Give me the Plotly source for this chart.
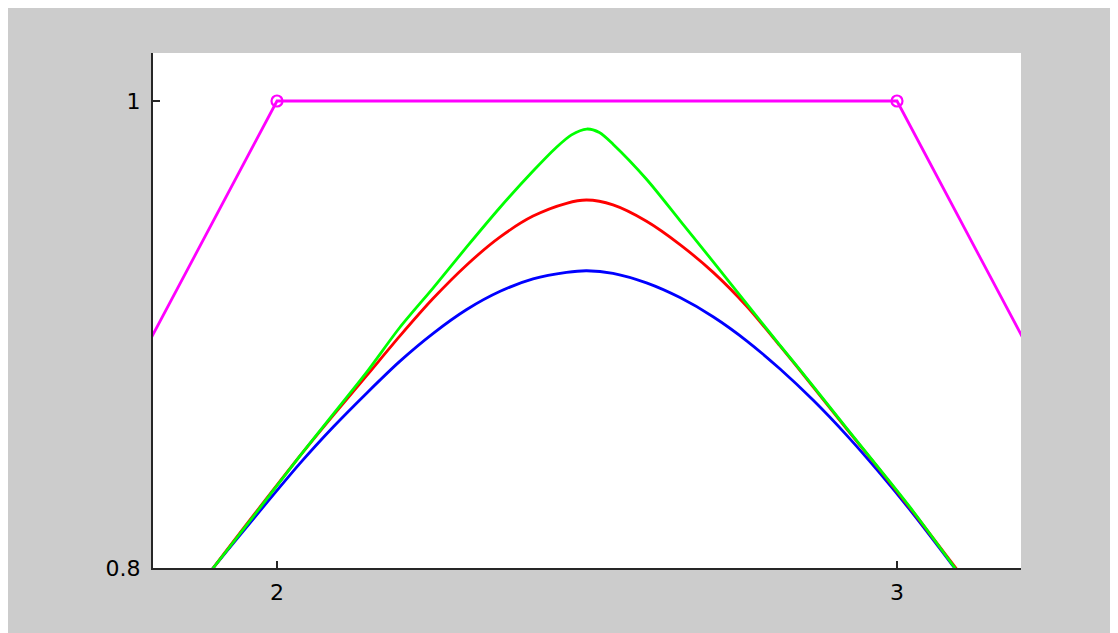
import plotly.graph_objects as go

# Trapezoid (magenta) vertices
trap_x = [0.0, 2.0, 3.0, 5.0]
trap_y = [0.0, 1.0, 1.0, 0.0]

# Curves
green_x = [1.88, 1.897, 1.95, 2.037, 2.091, 2.145, 2.198, 2.252, 2.306, 2.360, 2.413, 2.450, 2.475, 2.4995, 2.520, 2.542, 2.596, 2.650, 2.704, 2.758, 2.811, 2.865, 2.919, 2.973, 3.026, 3.0935, 3.11]
green_y = [0.794, 0.800, 0.818, 0.848, 0.866, 0.884, 0.903, 0.920, 0.9375, 0.9545, 0.970, 0.980, 0.9855, 0.988, 0.9865, 0.9815, 0.9665, 0.9488, 0.9310, 0.9130, 0.8955, 0.8778, 0.8598, 0.8420, 0.8243, 0.800, 0.794]

red_x = [1.88, 1.897, 2.037, 2.091, 2.145, 2.198, 2.252, 2.306, 2.360, 2.413, 2.467, 2.4995, 2.542, 2.596, 2.650, 2.704, 2.758, 2.811, 2.865, 2.919, 2.973, 3.026, 3.095, 3.11]
red_y = [0.794, 0.800, 0.848, 0.8655, 0.8825, 0.8993, 0.9155, 0.9298, 0.9418, 0.9507, 0.9562, 0.9576, 0.9555, 0.9485, 0.9385, 0.9265, 0.9120, 0.8952, 0.8775, 0.8595, 0.8418, 0.8240, 0.800, 0.795]

blue_x = [1.88, 1.897, 2.037, 2.091, 2.145, 2.198, 2.252, 2.306, 2.360, 2.413, 2.467, 2.4995, 2.542, 2.596, 2.650, 2.704, 2.758, 2.811, 2.865, 2.919, 2.973, 3.026, 3.093, 3.11]
blue_y = [0.794, 0.800, 0.8448, 0.8605, 0.8750, 0.8885, 0.9005, 0.9107, 0.9185, 0.9238, 0.9266, 0.9273, 0.9262, 0.9221, 0.9158, 0.9075, 0.8972, 0.8853, 0.8718, 0.8568, 0.8404, 0.8232, 0.800, 0.794]

x_ticks = [2, 3]
x_tick_text = ["2", "3"]
y_ticks = [0.8, 1.0]
y_tick_text = ["0.8", "1"]

fig = go.Figure()
fig.add_trace(go.Scatter(x=blue_x, y=blue_y, mode="lines", line=dict(color="#0000ff", width=2.8, shape="spline", smoothing=0.8)))
fig.add_trace(go.Scatter(x=red_x, y=red_y, mode="lines", line=dict(color="#ff0000", width=2.8, shape="spline", smoothing=0.8)))
fig.add_trace(go.Scatter(x=green_x, y=green_y, mode="lines", line=dict(color="#00ff00", width=2.8, shape="spline", smoothing=0.8)))
fig.add_trace(go.Scatter(x=trap_x, y=trap_y, mode="lines+markers",
                         line=dict(color="#ff00ff", width=2.8),
                         marker=dict(symbol="circle-open", size=11, color="#ff00ff", line=dict(width=2.2))))

fig.update_layout(
    width=1110, height=625,
    margin=dict(l=145, r=97, t=45, b=65),
    paper_bgcolor="#cccccc",
    plot_bgcolor="#ffffff",
    showlegend=False,
    font=dict(family="DejaVu Sans, sans-serif", size=22, color="#000000"),
)
tickfont = dict(family="DejaVu Sans, sans-serif", size=22, color="#000000")
fig.update_xaxes(range=[1.8, 3.2], tickvals=x_ticks, ticktext=x_tick_text, tickfont=tickfont,
                 showgrid=False, zeroline=False, showline=True, linecolor="#262626", linewidth=2,
                 ticks="inside", ticklen=7, tickwidth=1.5, tickcolor="#262626", mirror=False,
                 ticklabelstandoff=4)
fig.update_yaxes(range=[0.8, 1.02056], tickvals=y_ticks, ticktext=y_tick_text, tickfont=tickfont,
                 showgrid=False, zeroline=False, showline=True, linecolor="#262626", linewidth=2,
                 ticks="inside", ticklen=7, tickwidth=1.5, tickcolor="#262626", mirror=False,
                 ticklabelstandoff=6)

fig.write_html("out.html")
